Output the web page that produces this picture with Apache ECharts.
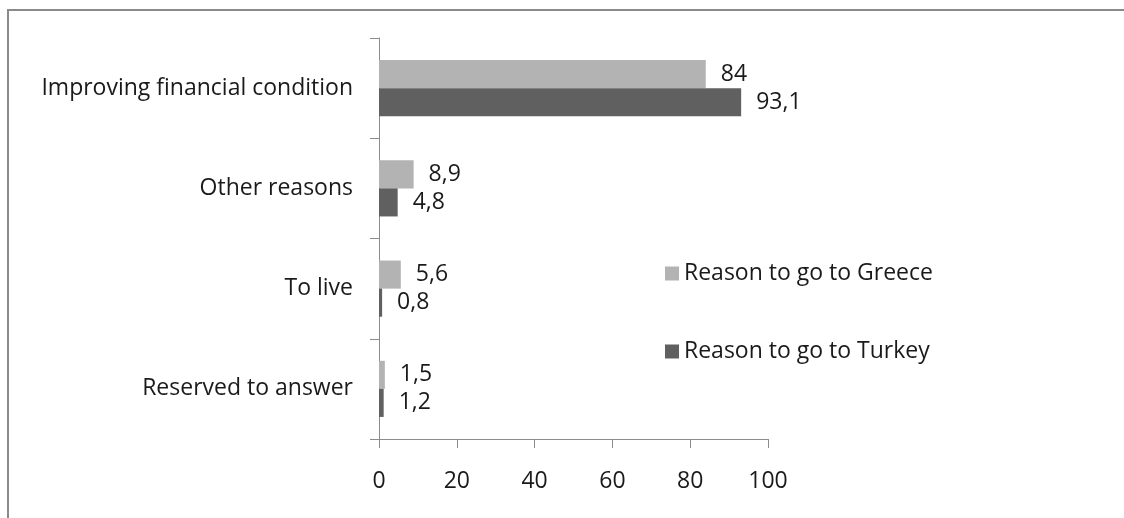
<!DOCTYPE html>
<html>
<head>
<meta charset="utf-8">
<script src="https://cdn.jsdelivr.net/npm/echarts@6/dist/echarts.min.js"></script>
<style>
  html, body { margin: 0; padding: 0; background: #fff; }
  #chart { width: 1124px; height: 518px; }
</style>
</head>
<body>
<div id="chart"></div>
<script>
// Reasons for migration, in percent
const categories = ['Improving financial condition', 'Other reasons', 'To live', 'Reserved to answer'];
const greeceValues = [84, 8.9, 5.6, 1.5];
const turkeyValues = [93.1, 4.8, 0.8, 1.2];
const seriesNames = ['Reason to go to Greece', 'Reason to go to Turkey'];
const xTicks = { min: 0, max: 100, interval: 20 };

const FONT = 'Open Sans';
const FS = 23;
const TEXT = '#1a1a1a';
const AXIS = '#8c8c8c';

const commaLabel = p => String(p.value).replace('.', ',');

const chart = echarts.init(document.getElementById('chart'), null, { renderer: 'canvas' });
chart.setOption({
  animation: false,
  backgroundColor: '#fff',
  textStyle: { fontFamily: FONT },
  graphic: [{
    type: 'rect',
    shape: { x: 8, y: 10, width: 1200, height: 600 },
    style: { fill: 'none', stroke: '#8a8a8a', lineWidth: 2 },
    silent: true
  }],
  grid: { left: 379, right: 356, top: 38, bottom: 79, containLabel: false },
  legend: {
    orient: 'vertical',
    left: 660,
    top: 257,
    itemGap: 55,
    itemWidth: 14,
    itemHeight: 14,
    icon: 'rect',
    textStyle: { fontFamily: FONT, fontSize: FS, color: TEXT, padding: [0, 0, 0, 0] },
    data: seriesNames
  },
  xAxis: {
    type: 'value',
    min: xTicks.min,
    max: xTicks.max,
    interval: xTicks.interval,
    axisLine: { show: true, lineStyle: { color: AXIS, width: 1 } },
    axisTick: { show: true, inside: false, length: 9, lineStyle: { color: AXIS } },
    axisLabel: { fontFamily: FONT, fontSize: FS, color: TEXT, margin: 31 },
    splitLine: { show: false }
  },
  yAxis: {
    type: 'category',
    data: categories,
    inverse: true,
    axisLine: { show: true, lineStyle: { color: AXIS, width: 1 } },
    axisTick: { show: true, length: 9, alignWithLabel: false, lineStyle: { color: AXIS } },
    axisLabel: { fontFamily: FONT, fontSize: FS, color: TEXT, margin: 26, padding: [4, 0, 0, 0] },
    splitLine: { show: false }
  },
  series: [
    {
      name: seriesNames[0],
      type: 'bar',
      data: greeceValues,
      barCategoryGap: '44%',
      barGap: '0%',
      itemStyle: { color: '#b3b3b3' },
      label: { show: true, position: 'right', distance: 15, fontFamily: FONT, fontSize: FS, color: TEXT, formatter: commaLabel }
    },
    {
      name: seriesNames[1],
      type: 'bar',
      data: turkeyValues,
      barCategoryGap: '44%',
      barGap: '0%',
      itemStyle: { color: '#606060' },
      label: { show: true, position: 'right', distance: 15, fontFamily: FONT, fontSize: FS, color: TEXT, formatter: commaLabel }
    }
  ]
});
</script>
</body>
</html>
